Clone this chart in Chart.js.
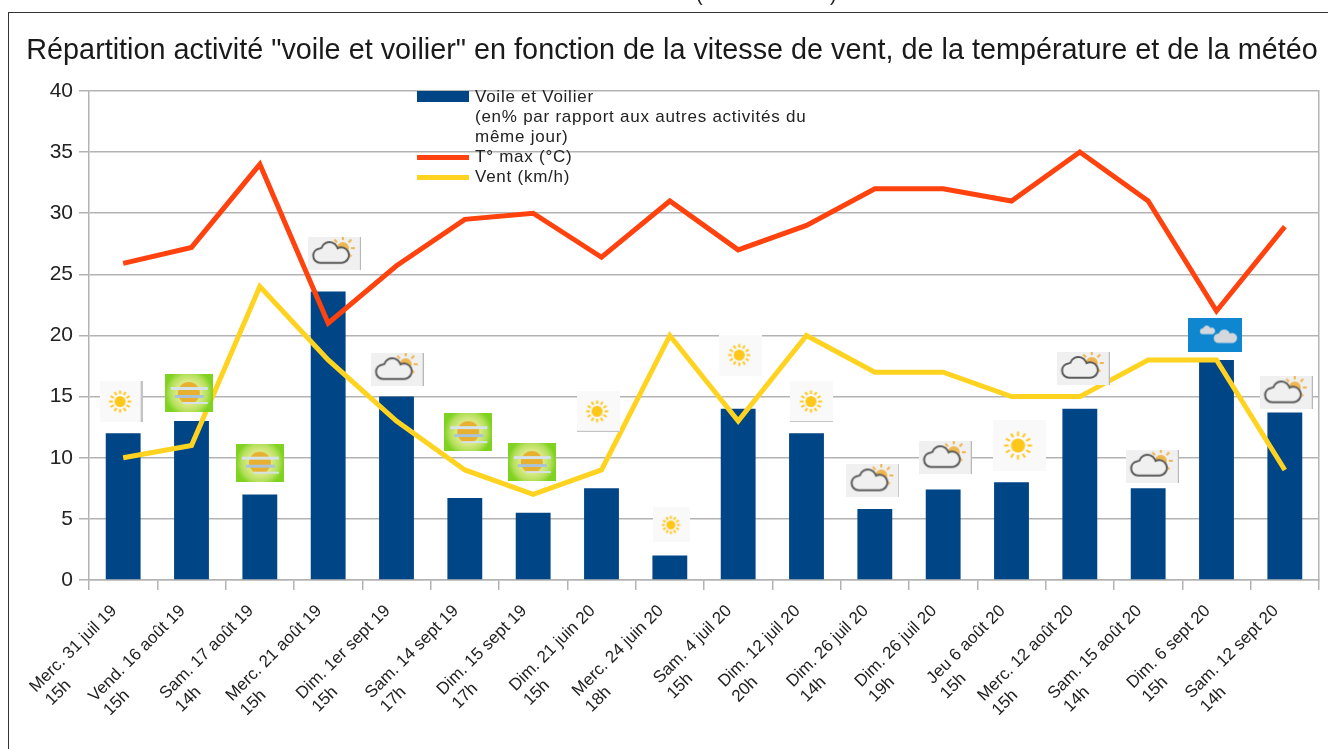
<!DOCTYPE html>
<html>
<head>
<meta charset="utf-8">
<title>Voile et voilier</title>
<script src="https://cdn.jsdelivr.net/npm/chart.js@4/dist/chart.umd.min.js"></script>
<style>
  html, body { margin: 0; padding: 0; background: #fff; overflow: hidden; }
  #cadre { position: relative; width: 1328px; height: 749px; overflow: hidden; }
  #bord { position: absolute; left: 8px; top: 12px; right: -4px; bottom: -4px; border: 1.5px solid #333; }
  canvas { position: absolute; left: 0; top: 0; }
  #legende { position: absolute; left: 417px; top: 87px; width: 420px;
    font: 17px/20px "Liberation Sans", sans-serif; letter-spacing: 0.75px; color: #222; }
  .entree { position: relative; padding-left: 58px; white-space: pre-line; }
  .trait { position: absolute; left: 0; width: 52px; }
  .coupe { position: absolute; top: -17px; font: 20px/22px "Liberation Sans", sans-serif; color: #222; }
</style>
</head>
<body>
<div id="cadre">
  <canvas id="chart" width="1328" height="749"></canvas>
  <div id="bord"></div>
  <div id="legende"></div>
  <!-- bottom of a line of text cut off above the picture -->
  <div class="coupe" style="left: 696px">(</div>
  <div class="coupe" style="left: 830px">)</div>
</div>
<script>
// Axis labels
const dates = ['Merc. 31 juil 19', 'Vend. 16 août 19', 'Sam. 17 août 19', 'Merc. 21 août 19', 'Dim. 1er sept 19',
  'Sam. 14 sept 19', 'Dim. 15 sept 19', 'Dim. 21 juin 20', 'Merc. 24 juin 20', 'Sam. 4 juil 20', 'Dim. 12 juil 20',
  'Dim. 26 juil 20', 'Dim. 26 juil 20', 'Jeu 6 août 20', 'Merc. 12 août 20', 'Sam. 15 août 20', 'Dim. 6 sept 20',
  'Sam. 12 sept 20'];
const heures = ['15h', '15h', '14h', '15h', '15h', '17h', '17h', '15h', '18h', '15h', '20h', '14h', '19h', '15h',
  '15h', '14h', '15h', '14h'];

// Series
const voile = [12, 13, 7, 23.6, 15, 6.7, 5.5, 7.5, 2, 14, 12, 5.8, 7.4, 8, 14, 7.5, 18, 13.7];
const tempMax = [25.9, 27.2, 34, 21, 25.7, 29.5, 30, 26.4, 31, 27, 29, 32, 32, 31, 35, 31, 22, 28.9];
const vent = [10, 11, 24, 18, 13, 9, 7, 9, 20, 13, 20, 17, 17, 15, 15, 18, 18, 9];

// Weather pictures: kind, and where each one sits in axis units
const meteo = ['soleilD', 'voile', 'voile', 'nuage', 'nuage', 'voile', 'voile', 'soleilB', 'petit', 'soleil', 'soleilB',
  'nuage', 'nuage', 'grand', 'nuage', 'nuage', 'bleu', 'nuage'];
const meteoRang = [-0.03, 0.96, 2, 3.09, 4.01, 5.05, 5.98, 6.95, 8.03, 9.03, 10.08, 10.97, 12.03, 13.11, 14.05, 15.06,
  15.98, 17.02];
const meteoNiveau = [14.6, 15.3, 9.6, 26.7, 17.2, 12.1, 9.65, 13.8, 4.5, 18.4, 14.6, 8.1, 10, 11, 17.3, 9.3, 20, 15.3];

const police = '"Liberation Sans", sans-serif';
const tailleTick = 17;

function newIcon (w, h, bg) {
  const c = document.createElement('canvas');
  c.width = w;
  c.height = h;
  const ctx = c.getContext('2d');
  ctx.fillStyle = bg;
  ctx.fillRect(0, 0, w, h);
  return [c, ctx];
}

function drawSun (ctx, x, y, r, rays, colour, rayWidth) {
  ctx.strokeStyle = colour;
  ctx.lineWidth = rayWidth;
  for (let i = 0; i < rays; i++) {
    const a = i * 2 * Math.PI / rays;
    ctx.beginPath();
    ctx.moveTo(x + Math.cos(a) * r * 1.35, y + Math.sin(a) * r * 1.35);
    ctx.lineTo(x + Math.cos(a) * r * 2, y + Math.sin(a) * r * 2);
    ctx.stroke();
  }
  ctx.fillStyle = colour;
  ctx.beginPath();
  ctx.arc(x, y, r, 0, 2 * Math.PI);
  ctx.fill();
}

function cloudPath (ctx, x, y, s) {
  ctx.beginPath();
  ctx.moveTo(x + 5 * s, y + 16 * s);
  ctx.arc(x + 5 * s, y + 10.5 * s, 5.5 * s, Math.PI / 2, Math.PI * 1.45);
  ctx.arc(x + 12 * s, y + 6.5 * s, 6.5 * s, Math.PI * 1.1, Math.PI * 1.85);
  ctx.arc(x + 21 * s, y + 10 * s, 6 * s, Math.PI * 1.35, Math.PI * 2.5);
  ctx.closePath();
}

function sunIcon (w, r, edge) {
  const h = w - 2;
  const [c, ctx] = newIcon(w, h, '#f9f9f9');
  drawSun(ctx, w / 2 - 1, h / 2, r, 12, '#ffc71a', 2);
  ctx.fillStyle = '#c4c4c4';
  if (edge === 'right') ctx.fillRect(w - 2, 0, 2, h);
  if (edge === 'bottom') ctx.fillRect(0, h - 1, w, 1);
  return c;
}

function voileIcon () {
  const [c, ctx] = newIcon(48, 38, '#7fd320');
  const halo = ctx.createRadialGradient(24, 19, 6, 24, 19, 24);
  halo.addColorStop(0, '#f7f3a8');
  halo.addColorStop(0.7, '#b5e05c');
  halo.addColorStop(1, '#7fd320');
  ctx.fillStyle = halo;
  ctx.fillRect(0, 0, 48, 38);
  ctx.fillStyle = '#e8b030';
  ctx.beginPath();
  ctx.arc(24, 19, 11, 0, 2 * Math.PI);
  ctx.fill();
  ctx.fillStyle = '#d5e2e6';
  ctx.fillRect(6, 13, 37, 3);
  ctx.fillStyle = '#a9c4d8';
  ctx.fillRect(10, 21, 29, 3);
  ctx.fillStyle = '#d5e2e6';
  ctx.fillRect(18, 28, 25, 2);
  return c;
}

function nuageIcon () {
  const [c, ctx] = newIcon(53, 33, '#f0f0f0');
  drawSun(ctx, 35, 11, 6, 8, '#eeb64f', 2);
  ctx.fillStyle = '#f0f0f0';
  cloudPath(ctx, 6, 5, 1.3);
  ctx.fill();
  ctx.strokeStyle = '#5c5c5c';
  ctx.lineWidth = 2;
  ctx.stroke();
  ctx.fillStyle = '#b8b8b8';
  ctx.fillRect(52, 0, 1, 33);
  return c;
}

function bleuIcon () {
  const [c, ctx] = newIcon(54, 34, '#0f86d0');
  ctx.fillStyle = '#d4d8dc';
  cloudPath(ctx, 12, 7, 0.55);
  ctx.fill();
  cloudPath(ctx, 26, 11, 0.85);
  ctx.fill();
  return c;
}

const icones = {
  soleil: sunIcon(43, 5.5),
  soleilD: sunIcon(43, 5.5, 'right'),
  soleilB: sunIcon(43, 5.5, 'bottom'),
  petit: sunIcon(37, 4.5),
  grand: sunIcon(53, 7),
  voile: voileIcon(),
  nuage: nuageIcon(),
  bleu: bleuIcon()
};

const labels = dates.map((d, i) => [d, heures[i]]);
const ctxMesure = document.createElement('canvas').getContext('2d');

// Tick lines are right aligned when rotated: pad the hour so it starts where the date starts
function tickLines (value, index) {
  ctxMesure.font = tailleTick + 'px ' + police;
  const reste = ctxMesure.measureText(dates[index]).width - ctxMesure.measureText(heures[index]).width;
  const pad = '\u00a0'.repeat(Math.round(reste / ctxMesure.measureText('\u00a0').width));
  return [dates[index], heures[index] + pad];
}

const chart = new Chart(document.getElementById('chart').getContext('2d'), {
  data: {
    labels: labels,
    datasets: [
      { type: 'bar', label: 'Voile et Voilier\n(en% par rapport aux autres activités du\nmême jour)', data: voile,
        backgroundColor: '#004586', barPercentage: 0.51, categoryPercentage: 1, grouped: false, order: 4 },
      { type: 'line', label: 'T° max (°C)', data: tempMax, borderColor: '#ff420e', backgroundColor: '#ff420e',
        borderWidth: 5, pointRadius: 0, tension: 0, borderJoinStyle: 'miter', order: 3 },
      { type: 'line', label: 'Vent (km/h)', data: vent, borderColor: '#ffd320', backgroundColor: '#ffd320',
        borderWidth: 5, pointRadius: 0, tension: 0, borderJoinStyle: 'miter', order: 2 },
      { type: 'scatter', label: 'Météo', xAxisID: 'xMeteo', order: 1, showLine: false,
        data: meteo.map((m, i) => ({ x: meteoRang[i], y: meteoNiveau[i] })),
        pointStyle: meteo.map(m => icones[m]), pointRadius: 5 }
    ]
  },
  options: {
    responsive: false,
    animation: false,
    layout: { padding: { left: 25, right: 9, top: 0, bottom: 0 } },
    scales: {
      x: {
        grid: { drawOnChartArea: false, color: '#b3b3b3', lineWidth: 1.5, tickLength: 10, offset: true },
        border: { color: '#b3b3b3', width: 1.5 },
        ticks: { autoSkip: false, minRotation: 45, maxRotation: 45, padding: 11, labelOffset: -9, color: '#222',
          font: { family: police, size: tailleTick }, callback: tickLines },
        afterFit: function (scale) { scale.height = 169; }
      },
      xMeteo: { type: 'linear', display: false, min: -0.5, max: 17.5 },
      y: {
        min: 0,
        max: 40,
        grid: { color: '#b3b3b3', lineWidth: 1.5, tickLength: 10 },
        border: { color: '#b3b3b3', width: 1.5 },
        ticks: { stepSize: 5, padding: 6, color: '#222', font: { family: police, size: 21 } },
        afterFit: function (scale) { scale.width = 64; }
      },
      // only there for the closing line on the right of the plot
      yDroite: {
        position: 'right',
        min: 0,
        max: 40,
        grid: { drawOnChartArea: false, drawTicks: false },
        border: { color: '#b3b3b3', width: 1.5 },
        ticks: { display: false },
        afterFit: function (scale) { scale.width = 0; }
      }
    },
    plugins: {
      legend: { display: false },
      tooltip: { enabled: false },
      title: {
        display: true,
        text: 'Répartition activité "voile et voilier" en fonction de la vitesse de vent, de la température et de la météo',
        color: '#1a1a1a',
        font: { family: police, size: 28.8, weight: 'normal' },
        padding: { top: 34, bottom: 22.4 }
      }
    }
  }
});

// Legend sits inside the plot, so it is built from the datasets as html
const legende = document.getElementById('legende');
chart.data.datasets.slice(0, 3).forEach((ds) => {
  const entree = document.createElement('div');
  entree.className = 'entree';
  entree.textContent = ds.label;
  const trait = document.createElement('div');
  trait.className = 'trait';
  trait.style.background = ds.backgroundColor;
  trait.style.top = ds.type === 'bar' ? '4px' : '8px';
  trait.style.height = ds.type === 'bar' ? '11px' : '5px';
  entree.appendChild(trait);
  legende.appendChild(entree);
});
</script>
</body>
</html>
